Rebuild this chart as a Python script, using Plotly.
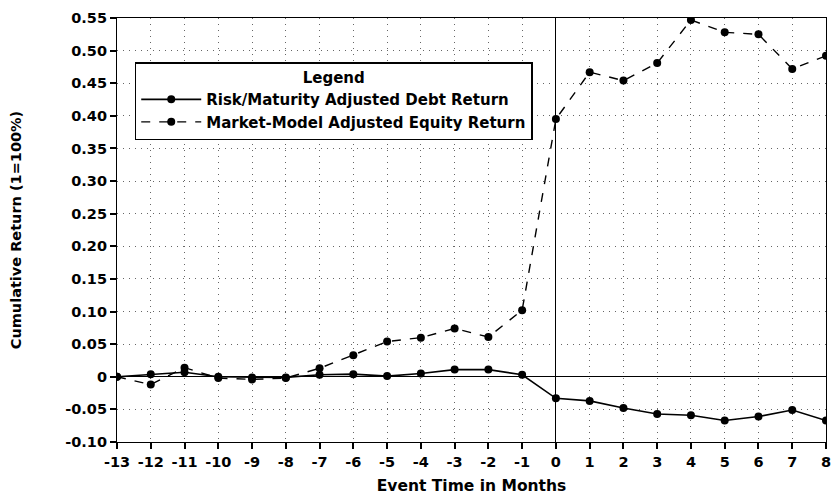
import plotly.graph_objects as go

# Event time (months relative to the event)
months = list(range(-13, 9))

# Cumulative abnormal returns
debt_return = [0.000, 0.004, 0.007, 0.000, -0.001, -0.001, 0.003, 0.004, 0.001, 0.005,
               0.011, 0.011, 0.003, -0.033, -0.037, -0.048, -0.057, -0.059, -0.067,
               -0.061, -0.051, -0.067]
equity_return = [0.000, -0.012, 0.014, -0.002, -0.004, -0.002, 0.013, 0.033, 0.054, 0.060,
                 0.074, 0.061, 0.102, 0.395, 0.467, 0.454, 0.481, 0.547, 0.528,
                 0.525, 0.472, 0.492]

y_ticks = [-0.10, -0.05, 0, 0.05, 0.10, 0.15, 0.20, 0.25, 0.30, 0.35, 0.40, 0.45, 0.50, 0.55]
y_tick_text = ["-0.10", "-0.05", "0", "0.05", "0.10", "0.15", "0.20", "0.25", "0.30",
               "0.35", "0.40", "0.45", "0.50", "0.55"]

FONT = "DejaVu Sans, Liberation Sans, Arial, sans-serif"

fig = go.Figure()
fig.add_trace(go.Scatter(
    x=months, y=debt_return, mode="lines+markers",
    name="<b>Risk/Maturity Adjusted Debt Return</b>",
    line=dict(color="black", width=1.6),
    marker=dict(color="black", size=8),
))
fig.add_trace(go.Scatter(
    x=months, y=equity_return, mode="lines+markers",
    name="<b>Market-Model Adjusted Equity Return</b>",
    line=dict(color="black", width=1.4, dash="dash"),
    marker=dict(color="black", size=8),
))

axis_common = dict(
    showline=True, linecolor="black", linewidth=1.2, mirror=True,
    ticks="outside", ticklen=6, tickwidth=1.5, tickcolor="black",
    showgrid=True, gridcolor="#666", gridwidth=1, griddash="1px,5px",
    zeroline=True, zerolinecolor="black", zerolinewidth=1.2,
    tickfont=dict(family=FONT, size=14.5, color="black", weight="bold"),
    automargin=False,
)

fig.update_layout(
    width=838, height=495,
    margin=dict(l=117, r=12, t=18, b=53),
    paper_bgcolor="white", plot_bgcolor="white",
    font=dict(family=FONT, color="black"),
    xaxis=dict(
        range=[-13, 8], tickvals=months, ticktext=[str(m) for m in months],
        title=dict(text="<b>Event Time in Months</b>", font=dict(family=FONT, size=15.5), standoff=14),
        **axis_common,
    ),
    yaxis=dict(
        range=[-0.10, 0.55], tickvals=y_ticks, ticktext=y_tick_text,
        title=dict(text="<b>Cumulative Return (1=100%)</b>", font=dict(family=FONT, size=14.5), standoff=40),
        **axis_common,
    ),
    legend=dict(
        x=0.025, y=0.896, xanchor="left", yanchor="top",
        bgcolor="white", bordercolor="black", borderwidth=1.5,
        font=dict(family=FONT, size=15, color="black"),
        title=dict(text="<b>Legend</b>", side="top center", font=dict(family=FONT, size=15)),
        tracegroupgap=0, itemwidth=60,
    ),
    showlegend=True,
)

fig.write_html("out.html")
